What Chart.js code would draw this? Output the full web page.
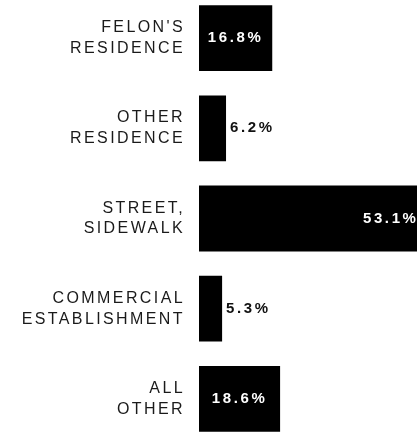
<!DOCTYPE html>
<html>
<head>
<meta charset="utf-8">
<script src="https://cdn.jsdelivr.net/npm/chart.js@4/dist/chart.umd.min.js"></script>
<style>
  html, body { margin: 0; padding: 0; background: #fff; overflow: hidden; }
  #wrap { position: absolute; left: 0; top: -7px; width: 417px; height: 451px; }
</style>
</head>
<body>
<div id="wrap"><canvas id="chart"></canvas></div>
<script>
const categories = [
  ["FELON'S", "RESIDENCE"],
  ["OTHER", "RESIDENCE"],
  ["STREET,", "SIDEWALK"],
  ["COMMERCIAL", "ESTABLISHMENT"],
  ["ALL", "OTHER"]
];
const shares = [16.8, 6.2, 53.1, 5.3, 18.6];

// value labels: white inside the big bars, black beside the small ones
const valueLabels = {
  id: "valueLabels",
  afterDatasetsDraw(chart) {
    const ctx = chart.ctx;
    const meta = chart.getDatasetMeta(0);
    ctx.save();
    ctx.font = "bold 15px 'Liberation Sans', Arial, sans-serif";
    ctx.letterSpacing = "2.6px";
    ctx.textBaseline = "middle";
    meta.data.forEach((bar, i) => {
      const text = shares[i].toFixed(1) + "%";
      const w = bar.x - bar.base;
      if (w > 150) {
        ctx.fillStyle = "#fff";
        ctx.textAlign = "right";
        ctx.fillText(text, bar.x - 12, bar.y);
      } else if (w > 50) {
        ctx.fillStyle = "#fff";
        ctx.textAlign = "center";
        ctx.fillText(text, (bar.x + bar.base) / 2, bar.y);
      } else {
        ctx.fillStyle = "#111";
        ctx.textAlign = "left";
        ctx.fillText(text, bar.x + 4, bar.y);
      }
    });
    ctx.restore();
  }
};

const spacing = {
  id: "spacing",
  beforeDraw(chart) { chart.ctx.letterSpacing = "2.4px"; }
};

new Chart(document.getElementById("chart"), {
  type: "bar",
  data: {
    labels: categories,
    datasets: [{
      data: shares,
      backgroundColor: "#000",
      borderWidth: 0,
      categoryPercentage: 1,
      barPercentage: 0.73
    }]
  },
  options: {
    indexAxis: "y",
    responsive: true,
    maintainAspectRatio: false,
    animation: false,
    layout: { padding: 0 },
    plugins: { legend: { display: false }, tooltip: { enabled: false } },
    scales: {
      x: { display: false, min: 0, max: 50 },
      y: {
        grid: { display: false, drawTicks: false },
        border: { display: false },
        afterFit(scale) {
          scale.width = 199;
          scale.paddingTop = 0;
          scale.paddingBottom = 0;
        },
        ticks: {
          padding: 14,
          color: "#1a1a1a",
          font: { family: "'Liberation Sans', Arial, sans-serif", size: 16, lineHeight: 1.3 }
        }
      }
    }
  },
  plugins: [spacing, valueLabels]
});
</script>
</body>
</html>
